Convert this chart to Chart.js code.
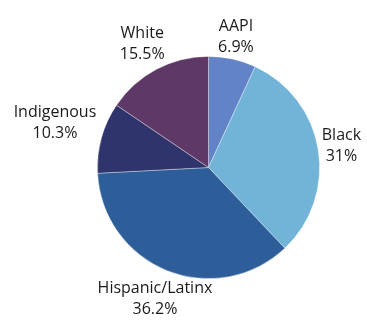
<!DOCTYPE html>
<html>
<head>
<meta charset="utf-8">
<script src="https://cdn.jsdelivr.net/npm/chart.js@4"></script>
<style>
  body { margin: 0; background: #fff; }
</style>
</head>
<body>
<canvas id="pieChart" width="367" height="322"></canvas>
<script>
const categories = ['AAPI', 'Black', 'Hispanic/Latinx', 'Indigenous', 'White'];
const shares = [6.9, 31, 36.2, 10.3, 15.5];
const shareLabels = ['6.9%', '31%', '36.2%', '10.3%', '15.5%'];

const sliceColors = ['#6283C8', '#72B4D8', '#2E5E99', '#2F346C', '#5E3866'];

// labels outside of the slices, two centred lines each
const outsideLabels = {
  id: 'outsideLabels',
  afterDatasetsDraw(chart, args, opts) {
    const ctx = chart.ctx;
    const meta = chart.getDatasetMeta(0);
    const lineH = opts.lineHeight;
    ctx.save();
    ctx.font = opts.font;
    ctx.fillStyle = opts.color;
    ctx.textAlign = 'center';
    ctx.textBaseline = 'alphabetic';
    meta.data.forEach((arc, i) => {
      const p = arc.getProps(['x', 'y', 'startAngle', 'endAngle', 'outerRadius'], true);
      const mid = (p.startAngle + p.endAngle) / 2;
      const dx = Math.cos(mid);
      const dy = Math.sin(mid);
      const lines = [chart.data.labels[i], shareLabels[i]];
      const hw = Math.max(...lines.map(t => ctx.measureText(t).width)) / 2;
      const nudge = opts.nudge[chart.data.labels[i]] || [0, 0];
      const cx = p.x + dx * (p.outerRadius + opts.pad) + dx * hw + nudge[0];
      const cy = p.y + dy * (p.outerRadius + opts.pad) + dy * lineH + nudge[1];
      ctx.fillText(lines[0], cx, cy - lineH / 2 + opts.capHalf);
      ctx.fillText(lines[1], cx, cy + lineH / 2 + opts.capHalf);
    });
    ctx.restore();
  }
};

const myChart = new Chart(document.getElementById('pieChart'), {
  type: 'pie',
  data: {
    labels: categories,
    datasets: [
      {
        data: shares,
        backgroundColor: sliceColors,
        borderColor: 'rgba(255,255,255,0.45)',
        borderWidth: 0.8,
      },
    ],
  },
  options: {
    responsive: false,
    animation: false,
    layout: {
      padding: { left: 97, right: 47, top: 56, bottom: 43 },
    },
    plugins: {
      legend: { display: false },
      tooltip: { enabled: false },
      outsideLabels: {
        font: '16px "Open Sans"',
        color: '#1a1a1a',
        lineHeight: 21,
        capHalf: 5.5,
        pad: 8,
        nudge: {
          AAPI: [-2, 5],
          Black: [-4, 0],
          'Hispanic/Latinx': [12, 0],
          Indigenous: [1, -8],
          White: [0, -1],
        },
      },
    },
  },
  plugins: [outsideLabels],
});
</script>
</body>
</html>
